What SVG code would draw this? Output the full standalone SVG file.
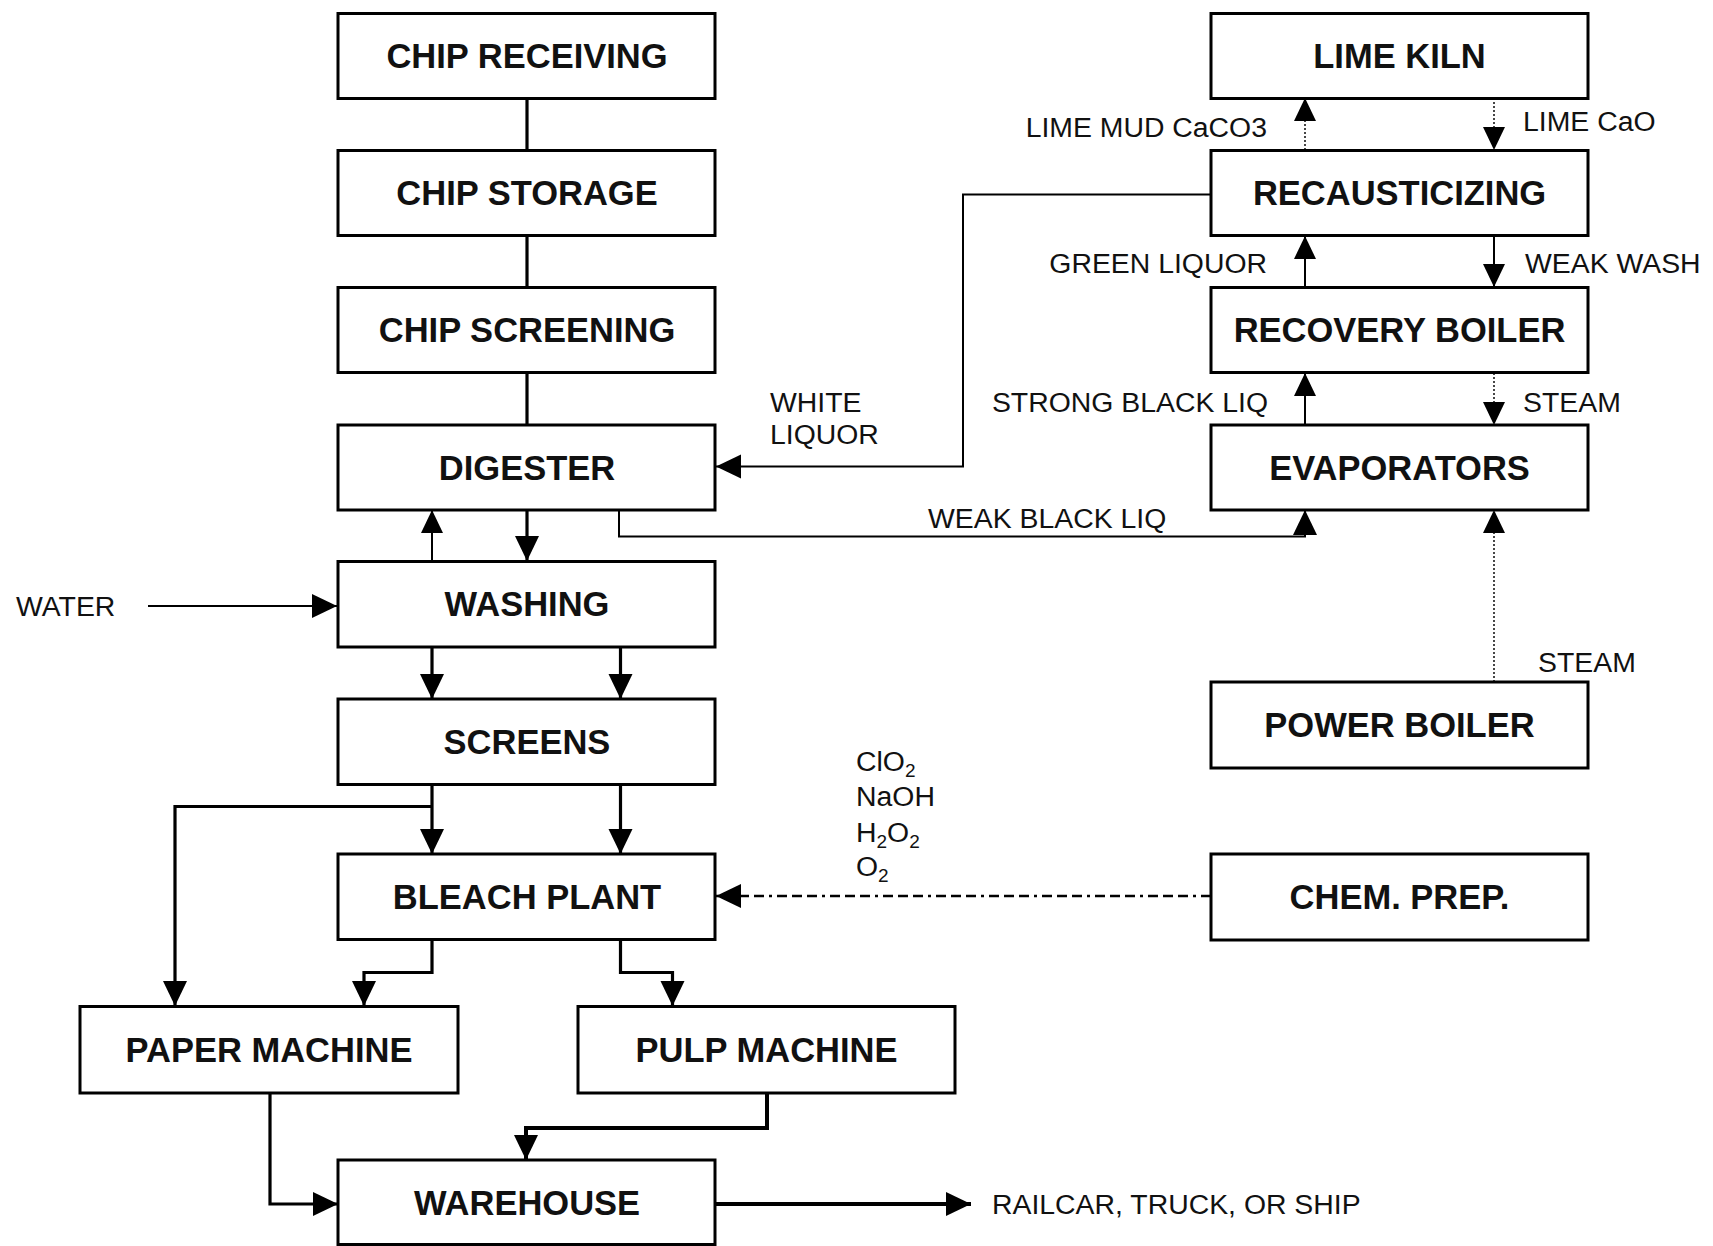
<svg xmlns="http://www.w3.org/2000/svg" width="1713" height="1246" viewBox="0 0 1713 1246">
<style>
.box{fill:#fff;stroke:#000;stroke-width:3}
.bt{font-family:"Liberation Sans",Arial,sans-serif;font-weight:bold;font-size:34.5px;text-anchor:middle;fill:#111}
.lb{font-family:"Liberation Sans",Arial,sans-serif;font-size:28.4px;fill:#111}
.sub{font-size:19px}
.c{fill:none;stroke:#000;stroke-linejoin:miter}
.w2{stroke-width:2}
.w3{stroke-width:3.2}
.w4{stroke-width:4}
.dot{stroke-width:1.8;stroke:#333;stroke-dasharray:2,2}
.dd{stroke-width:2.5;stroke-dasharray:10,5,3,5,10,5,10,5}
</style>
<defs>
<marker id="a" markerUnits="userSpaceOnUse" markerWidth="26" markerHeight="26" refX="25" refY="12.5" orient="auto">
<path d="M0,0.5 L25,12.5 L0,24.5 z" fill="#000"/>
</marker>
<marker id="s" markerUnits="userSpaceOnUse" markerWidth="24" markerHeight="24" refX="23" refY="11.5" orient="auto">
<path d="M0,0.5 L23,11.5 L0,22.5 z" fill="#000"/>
</marker>
</defs>
<rect width="1713" height="1246" fill="#fff"/>
<g id="connectors">
<path class="c w3" d="M527,98 V150"/>
<path class="c w3" d="M527,236 V287"/>
<path class="c w3" d="M527,373 V425"/>
<path class="c w3" d="M527,510 V561" marker-end="url(#a)"/>
<path class="c w2" d="M432,561 V510" marker-end="url(#s)"/>
<path class="c w2" d="M619,510 V536.5 H1305 V510" marker-end="url(#a)"/>
<path class="c w2" d="M1211,194.5 H963 V466.5 H716" marker-end="url(#a)"/>
<path class="c w2" d="M148,606 H337" marker-end="url(#a)"/>
<path class="c w3" d="M432,647 V699" marker-end="url(#a)"/>
<path class="c w3" d="M620.5,647 V699" marker-end="url(#a)"/>
<path class="c w3" d="M432,784 V854" marker-end="url(#a)"/>
<path class="c w3" d="M620.5,784 V854" marker-end="url(#a)"/>
<path class="c w3" d="M432,806.5 H175 V1006" marker-end="url(#a)"/>
<path class="c w3" d="M432,939.5 V972.5 H364 V1006" marker-end="url(#a)"/>
<path class="c w3" d="M620.5,939.5 V972.5 H672.5 V1006" marker-end="url(#a)"/>
<path class="c w3" d="M270,1093 V1204 H338" marker-end="url(#a)"/>
<path class="c w4" d="M767,1093 V1128 H526 V1160" marker-end="url(#a)"/>
<path class="c w4" d="M715,1204 H971" marker-end="url(#a)"/>
<path class="c dd" d="M1211,896 H716" marker-end="url(#a)"/>
<path class="c dot" d="M1305,150 V98" marker-end="url(#s)"/>
<path class="c dot" d="M1494,98 V150" marker-end="url(#s)"/>
<path class="c w2" d="M1305,287 V236" marker-end="url(#s)"/>
<path class="c w2" d="M1494,236 V287" marker-end="url(#s)"/>
<path class="c w2" d="M1305,425 V373" marker-end="url(#s)"/>
<path class="c dot" d="M1494,373 V425" marker-end="url(#s)"/>
<path class="c dot" d="M1494,682 V510" marker-end="url(#s)"/>
</g>
<g id="n-chip-receiving"><rect class="box" x="338" y="13.5" width="377" height="85"/><text class="bt" x="527" y="68">CHIP RECEIVING</text></g>
<g id="n-chip-storage"><rect class="box" x="338" y="150.5" width="377" height="85"/><text class="bt" x="527" y="205">CHIP STORAGE</text></g>
<g id="n-chip-screening"><rect class="box" x="338" y="287.5" width="377" height="85"/><text class="bt" x="527" y="342">CHIP SCREENING</text></g>
<g id="n-digester"><rect class="box" x="338" y="425" width="377" height="85"/><text class="bt" x="527" y="480">DIGESTER</text></g>
<g id="n-washing"><rect class="box" x="338" y="561.5" width="377" height="85.5"/><text class="bt" x="527" y="616">WASHING</text></g>
<g id="n-screens"><rect class="box" x="338" y="699" width="377" height="85.5"/><text class="bt" x="527" y="754">SCREENS</text></g>
<g id="n-bleach-plant"><rect class="box" x="338" y="854" width="377" height="85.5"/><text class="bt" x="527" y="909">BLEACH PLANT</text></g>
<g id="n-paper-machine"><rect class="box" x="80" y="1006.5" width="378" height="86.5"/><text class="bt" x="269" y="1062">PAPER MACHINE</text></g>
<g id="n-pulp-machine"><rect class="box" x="578" y="1006.5" width="377" height="86.5"/><text class="bt" x="766.5" y="1062">PULP MACHINE</text></g>
<g id="n-warehouse"><rect class="box" x="338" y="1160" width="377" height="84.5"/><text class="bt" x="527" y="1215">WAREHOUSE</text></g>
<g id="n-lime-kiln"><rect class="box" x="1211" y="13.5" width="377" height="85"/><text class="bt" x="1399.5" y="68">LIME KILN</text></g>
<g id="n-recausticizing"><rect class="box" x="1211" y="150.5" width="377" height="85"/><text class="bt" x="1399.5" y="205">RECAUSTICIZING</text></g>
<g id="n-recovery-boiler"><rect class="box" x="1211" y="287.5" width="377" height="85"/><text class="bt" x="1399.5" y="342">RECOVERY BOILER</text></g>
<g id="n-evaporators"><rect class="box" x="1211" y="425" width="377" height="85"/><text class="bt" x="1399.5" y="480">EVAPORATORS</text></g>
<g id="n-power-boiler"><rect class="box" x="1211" y="682" width="377" height="86"/><text class="bt" x="1399.5" y="737">POWER BOILER</text></g>
<g id="n-chem-prep"><rect class="box" x="1211" y="854" width="377" height="86"/><text class="bt" x="1399.5" y="909">CHEM. PREP.</text></g>
<g id="labels">
<text class="lb" x="16" y="616">WATER</text>
<text class="lb" x="770" y="412">WHITE</text>
<text class="lb" x="770" y="444">LIQUOR</text>
<text class="lb" x="928" y="528">WEAK BLACK LIQ</text>
<text class="lb" x="1267" y="137" text-anchor="end">LIME MUD CaCO3</text>
<text class="lb" x="1523" y="131">LIME CaO</text>
<text class="lb" x="1267" y="273" text-anchor="end">GREEN LIQUOR</text>
<text class="lb" x="1525" y="273">WEAK WASH</text>
<text class="lb" x="1268" y="412" text-anchor="end">STRONG BLACK LIQ</text>
<text class="lb" x="1523" y="412">STEAM</text>
<text class="lb" x="1538" y="672">STEAM</text>
<text class="lb" x="856" y="771">ClO<tspan class="sub" dy="6">2</tspan></text>
<text class="lb" x="856" y="806">NaOH</text>
<text class="lb" x="856" y="842">H<tspan class="sub" dy="6">2</tspan><tspan dy="-6">O</tspan><tspan class="sub" dy="6">2</tspan></text>
<text class="lb" x="856" y="876">O<tspan class="sub" dy="6">2</tspan></text>
<text class="lb" x="992" y="1214">RAILCAR, TRUCK, OR SHIP</text>
</g>
</svg>
